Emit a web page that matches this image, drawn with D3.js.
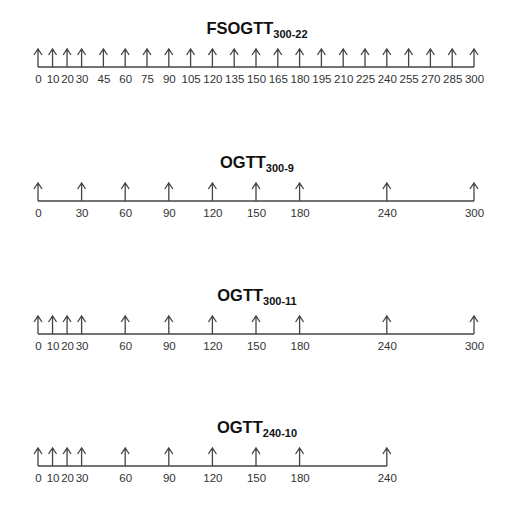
<!DOCTYPE html>
<html>
<head>
<meta charset="utf-8">
<script src="https://cdn.jsdelivr.net/npm/d3@7"></script>
<style>
  body { margin: 0; background: #fff; }
  text { font-family: "Liberation Sans", Arial, sans-serif; }
</style>
</head>
<body>
<div class="chart"></div>
<script>
// sampling protocols: names, subscripts and sampling times (min)
var names = ["FSOGTT", "OGTT", "OGTT", "OGTT"];
var subs = ["300-22", "300-9", "300-11", "240-10"];
var times1 = [0, 10, 20, 30, 45, 60, 75, 90, 105, 120, 135, 150, 165, 180, 195, 210, 225, 240, 255, 270, 285, 300];
var times2 = [0, 30, 60, 90, 120, 150, 180, 240, 300];
var times3 = [0, 10, 20, 30, 60, 90, 120, 150, 180, 240, 300];
var times4 = [0, 10, 20, 30, 60, 90, 120, 150, 180, 240];
var protocols = [times1, times2, times3, times4];

var width = 520;
var height = 513;

var svg = d3.select(".chart")
    .append("svg")
    .attr("width", width)
    .attr("height", height);

var x = d3.scaleLinear().domain([0, 300]).range([38, 474]);

var lineY = [67, 201, 334, 466];   // baseline of each timeline
var arrowLen = 18;
var col = "#444";

protocols.forEach(function (times, i) {
    var g = svg.append("g").attr("transform", "translate(0," + lineY[i] + ")");

    // title with subscript
    var t = g.append("text")
        .attr("x", 257)
        .attr("y", -33)
        .attr("text-anchor", "middle")
        .attr("font-weight", "bold")
        .attr("font-size", 16.5)
        .attr("fill", "#111");
    t.append("tspan").text(names[i]);
    t.append("tspan").attr("font-size", 11).attr("dy", 4).text(subs[i]);

    // baseline
    g.append("line")
        .attr("x1", x(0))
        .attr("x2", x(d3.max(times)))
        .attr("y1", 0).attr("y2", 0)
        .attr("stroke", col)
        .attr("stroke-width", 1.3);

    // labels via axis
    var axis = d3.axisBottom(x)
        .tickValues(times)
        .tickSize(0)
        .tickPadding(8)
        .tickFormat(d3.format("d"));
    var ag = g.append("g").call(axis);
    ag.select(".domain").remove();
    ag.selectAll("text")
        .attr("font-size", 11.5)
        .attr("font-family", "Liberation Sans, Arial, sans-serif")
        .attr("fill", "#333");

    // arrows
    g.selectAll(".arrow")
        .data(times)
        .enter()
        .append("path")
        .attr("class", "arrow")
        .attr("d", function (d) {
            var ax = x(d);
            return "M" + ax + ",0V" + (-arrowLen) +
                "M" + (ax - 4) + "," + (-arrowLen + 6) + "L" + ax + "," + (-arrowLen) +
                "L" + (ax + 4) + "," + (-arrowLen + 6);
        })
        .attr("fill", "none")
        .attr("stroke", col)
        .attr("stroke-width", 1.3);
});
</script>
</body>
</html>
